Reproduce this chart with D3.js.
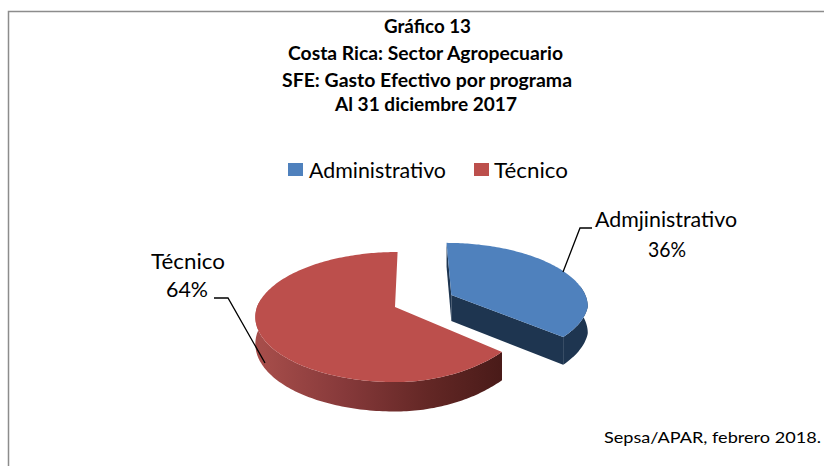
<!DOCTYPE html>
<html><head><meta charset="utf-8">
<script src="https://cdn.jsdelivr.net/npm/d3@7"></script>
<style>html,body{margin:0;padding:0;background:#fff}svg{display:block}text{font-family:Lato,"Noto Sans",sans-serif;fill:#000}</style>
</head><body><svg id="c" width="824" height="466"></svg>
<script>
const categories = ["Administrativo", "Técnico"];
const values = [36, 64];
const sliceLabels = ["Admjinistrativo", "Técnico"];
const titleLines = ["Gráfico 13", "Costa Rica: Sector Agropecuario", "SFE: Gasto Efectivo por programa", "Al 31 diciembre 2017"];
const sourceNote = "Sepsa/APAR, febrero 2018.";
const topColors = ["#4f81bd", "#bc4f4c"];

const svg = d3.select("#c");
const defs = svg.append("defs");
const grad = defs.append("linearGradient").attr("id","redSide").attr("gradientUnits","userSpaceOnUse")
  .attr("x1",262).attr("x2",500).attr("y1",0).attr("y2",0);
[[0,"#a64d4a"],[0.35,"#86393a"],[0.7,"#632725"],[1,"#4a1b19"]].forEach(s=>grad.append("stop").attr("offset",s[0]).attr("stop-color",s[1]));

// frame
svg.append("path").attr("d","M8.5 466V11.5H824").attr("fill","none").attr("stroke","#8c8c8c").attr("stroke-width",1.5);

// title
const titleSpec = [[33,384,87],[60,288,275],[87,282,290],[111,335,182]];
titleLines.forEach((t,i)=>svg.append("text").text(t).attr("x",titleSpec[i][1]).attr("y",titleSpec[i][0])
  .attr("font-size",18).attr("font-weight",700).attr("textLength",titleSpec[i][2]).attr("lengthAdjust","spacingAndGlyphs"));

// legend
const legendSpec = [[288,309,137],[474,494,74]];
categories.forEach((c,i)=>{
  svg.append("rect").attr("x",legendSpec[i][0]).attr("y",163).attr("width",15).attr("height",13).attr("fill",topColors[i]);
  svg.append("text").text(c).attr("x",legendSpec[i][1]).attr("y",178).attr("font-size",20.5)
    .attr("textLength",legendSpec[i][2]).attr("lengthAdjust","spacingAndGlyphs");
});

// perspective pie
const cx=395, cy=307, rx=138, ry=63.5, k=0.154, depth=26.5;
const proj=(u,v,d=0)=>{
  const w=1+k*v;
  const skew=(v<0&&u>0)?20*v*Math.min(u,0.8):(v>0?3*v:0);
  return [cx+(rx*u+skew)/w, cy-ry*v/w+d*depth/(1+0.1*v)];
};
const arcs=d3.pie().sort(null)(values);
const explode=[0.46,0];
const line=d3.line();
const mk=(a,i)=>{
  const mid=(a.startAngle+a.endAngle)/2, e=explode[i];
  const ox=e*Math.sin(mid), oy=e*Math.cos(mid);
  const n=Math.ceil((a.endAngle-a.startAngle)/0.02);
  const pts=d3.range(n+1).map(j=>{const t=a.startAngle+(a.endAngle-a.startAngle)*j/n;return [ox+Math.sin(t),oy+Math.cos(t),t];});
  return {ox,oy,pts};
};
const g=svg.append("g");
const drawSlice=(a,i)=>{
  const {ox,oy,pts}=mk(a,i);
  const front=pts.filter(p=>Math.cos(p[2])<0.15);
  const wall=front.map(p=>proj(p[0],p[1],0)).concat(front.slice().reverse().map(p=>proj(p[0],p[1],1)));
  if(i===0){
    const last=pts[pts.length-1], first=pts[0];
    g.append("path").attr("d",line([proj(ox,oy,0),proj(last[0],last[1],0),proj(last[0],last[1],1),proj(ox,oy,1)])+"Z").attr("fill","#1e3550");
    g.append("path").attr("d",line([proj(ox,oy,0),proj(first[0],first[1],0),proj(first[0],first[1],1),proj(ox,oy,1)])+"Z").attr("fill","#1e3550");
  }
  g.append("path").attr("d",line(wall)+"Z").attr("fill",i===0?"#1e3550":"url(#redSide)");
  const top=[proj(ox,oy,0)].concat(pts.map(p=>proj(p[0],p[1],0)));
  g.append("path").attr("d",line(top)+"Z").attr("fill",topColors[i]);
};
drawSlice(arcs[1],1);
drawSlice(arcs[0],0);

// data labels
const fmt=v=>v+"%";
const lab=[[595,227,142,648,257,38],[151,269,74,166,297,42]];
arcs.forEach((a,i)=>{
  const s=lab[i];
  svg.append("text").text(sliceLabels[i]).attr("x",s[0]).attr("y",s[1]).attr("font-size",20.5).attr("textLength",s[2]).attr("lengthAdjust","spacingAndGlyphs");
  svg.append("text").text(fmt(values[i])).attr("x",s[3]).attr("y",s[4]).attr("font-size",20.5).attr("textLength",s[5]).attr("lengthAdjust","spacingAndGlyphs");
});
svg.append("path").attr("d","M563 272L580 228H592").attr("fill","none").attr("stroke","#000").attr("stroke-width",1.3);
svg.append("path").attr("d","M214 298H228L265 363").attr("fill","none").attr("stroke","#000").attr("stroke-width",1.3);

svg.append("text").text(sourceNote).attr("x",604).attr("y",443).attr("font-size",16).attr("textLength",217).attr("lengthAdjust","spacingAndGlyphs");
</script></body></html>
